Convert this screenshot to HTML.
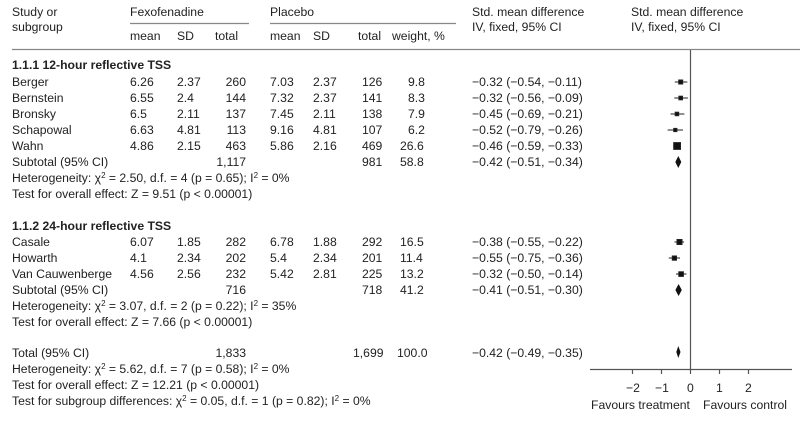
<!DOCTYPE html>
<html><head><meta charset="utf-8">
<style>
body{margin:0;background:#fff;}
#c{position:relative;width:800px;height:429px;overflow:hidden;font-family:"Liberation Sans",sans-serif;font-size:12.2px;color:#222;}
#c span{position:absolute;line-height:14px;white-space:nowrap;}
.r{text-align:right;}
b{font-weight:bold;}
sup{font-size:8px;line-height:0;vertical-align:4px;}
</style></head><body>
<div id="c">
<span style="left:12px;top:5px">Study or</span>
<span style="left:12px;top:20px">subgroup</span>
<span style="left:130px;top:5px">Fexofenadine</span>
<span style="left:270px;top:5px">Placebo</span>
<span style="left:472px;top:5px">Std. mean difference</span>
<span style="left:472px;top:20px">IV, fixed, 95% CI</span>
<span style="left:631px;top:5px">Std. mean difference</span>
<span style="left:631px;top:20px">IV, fixed, 95% CI</span>
<span style="left:130px;top:29px">mean</span>
<span style="left:177px;top:29px">SD</span>
<span style="left:215px;top:29px">total</span>
<span style="left:270px;top:29px">mean</span>
<span style="left:313px;top:29px">SD</span>
<span style="left:358px;top:29px">total</span>
<span style="left:392px;top:29px">weight, %</span>

<span style="left:12px;top:58px"><b>1.1.1 12-hour reflective TSS</b></span>

<span style="left:12px;top:75px">Berger</span><span style="left:130px;top:75px">6.26</span><span style="left:177px;top:75px">2.37</span><span class="r" style="right:554px;top:75px">260</span><span style="left:270px;top:75px">7.03</span><span style="left:313px;top:75px">2.37</span><span style="left:362px;top:75px">126</span><span style="left:408px;top:75px">9.8</span><span style="left:472px;top:75px">−0.32 (−0.54, −0.11)</span>
<span style="left:12px;top:91px">Bernstein</span><span style="left:130px;top:91px">6.55</span><span style="left:177px;top:91px">2.4</span><span class="r" style="right:554px;top:91px">144</span><span style="left:270px;top:91px">7.32</span><span style="left:313px;top:91px">2.37</span><span style="left:362px;top:91px">141</span><span style="left:408px;top:91px">8.3</span><span style="left:472px;top:91px">−0.32 (−0.56, −0.09)</span>
<span style="left:12px;top:107px">Bronsky</span><span style="left:130px;top:107px">6.5</span><span style="left:177px;top:107px">2.11</span><span class="r" style="right:554px;top:107px">137</span><span style="left:270px;top:107px">7.45</span><span style="left:313px;top:107px">2.11</span><span style="left:362px;top:107px">138</span><span style="left:408px;top:107px">7.9</span><span style="left:472px;top:107px">−0.45 (−0.69, −0.21)</span>
<span style="left:12px;top:123px">Schapowal</span><span style="left:130px;top:123px">6.63</span><span style="left:177px;top:123px">4.81</span><span class="r" style="right:554px;top:123px">113</span><span style="left:270px;top:123px">9.16</span><span style="left:313px;top:123px">4.81</span><span style="left:362px;top:123px">107</span><span style="left:408px;top:123px">6.2</span><span style="left:472px;top:123px">−0.52 (−0.79, −0.26)</span>
<span style="left:12px;top:139px">Wahn</span><span style="left:130px;top:139px">4.86</span><span style="left:177px;top:139px">2.15</span><span class="r" style="right:554px;top:139px">463</span><span style="left:270px;top:139px">5.86</span><span style="left:313px;top:139px">2.16</span><span style="left:362px;top:139px">469</span><span style="left:400px;top:139px">26.6</span><span style="left:472px;top:139px">−0.46 (−0.59, −0.33)</span>
<span style="left:12px;top:155px">Subtotal (95% CI)</span><span class="r" style="right:554px;top:155px">1,117</span><span style="left:362px;top:155px">981</span><span style="left:400px;top:155px">58.8</span><span style="left:472px;top:155px">−0.42 (−0.51, −0.34)</span>
<span style="left:12px;top:171px">Heterogeneity: χ<sup>2</sup> = 2.50, d.f. = 4 (p = 0.65); I<sup>2</sup> = 0%</span>
<span style="left:12px;top:187px">Test for overall effect: Z = 9.51 (p &lt; 0.00001)</span>

<span style="left:12px;top:219px"><b>1.1.2 24-hour reflective TSS</b></span>
<span style="left:12px;top:235px">Casale</span><span style="left:130px;top:235px">6.07</span><span style="left:177px;top:235px">1.85</span><span class="r" style="right:554px;top:235px">282</span><span style="left:270px;top:235px">6.78</span><span style="left:313px;top:235px">1.88</span><span style="left:362px;top:235px">292</span><span style="left:400px;top:235px">16.5</span><span style="left:472px;top:235px">−0.38 (−0.55, −0.22)</span>
<span style="left:12px;top:251px">Howarth</span><span style="left:130px;top:251px">4.1</span><span style="left:177px;top:251px">2.34</span><span class="r" style="right:554px;top:251px">202</span><span style="left:270px;top:251px">5.4</span><span style="left:313px;top:251px">2.34</span><span style="left:362px;top:251px">201</span><span style="left:400px;top:251px">11.4</span><span style="left:472px;top:251px">−0.55 (−0.75, −0.36)</span>
<span style="left:12px;top:267px">Van Cauwenberge</span><span style="left:130px;top:267px">4.56</span><span style="left:177px;top:267px">2.56</span><span class="r" style="right:554px;top:267px">232</span><span style="left:270px;top:267px">5.42</span><span style="left:313px;top:267px">2.81</span><span style="left:362px;top:267px">225</span><span style="left:400px;top:267px">13.2</span><span style="left:472px;top:267px">−0.32 (−0.50, −0.14)</span>
<span style="left:12px;top:283px">Subtotal (95% CI)</span><span class="r" style="right:554px;top:283px">716</span><span style="left:362px;top:283px">718</span><span style="left:400px;top:283px">41.2</span><span style="left:472px;top:283px">−0.41 (−0.51, −0.30)</span>
<span style="left:12px;top:299px">Heterogeneity: χ<sup>2</sup> = 3.07, d.f. = 2 (p = 0.22); I<sup>2</sup> = 35%</span>
<span style="left:12px;top:315px">Test for overall effect: Z = 7.66 (p &lt; 0.00001)</span>

<span style="left:12px;top:346px">Total (95% CI)</span><span class="r" style="right:554px;top:346px">1,833</span><span style="left:353px;top:346px">1,699</span><span style="left:397px;top:346px">100.0</span><span style="left:472px;top:346px">−0.42 (−0.49, −0.35)</span>
<span style="left:12px;top:362px">Heterogeneity: χ<sup>2</sup> = 5.62, d.f. = 7 (p = 0.58); I<sup>2</sup> = 0%</span>
<span style="left:12px;top:378px">Test for overall effect: Z = 12.21 (p &lt; 0.00001)</span>
<span style="left:12px;top:394px">Test for subgroup differences: χ<sup>2</sup> = 0.05, d.f. = 1 (p = 0.82); I<sup>2</sup> = 0%</span>

<span style="left:626px;top:381px">−2</span>
<span style="left:655px;top:381px">−1</span>
<span style="left:687px;top:381px">0</span>
<span style="left:716px;top:381px">1</span>
<span style="left:745px;top:381px">2</span>
<span style="left:591px;top:398px">Favours treatment</span>
<span style="left:703px;top:398px">Favours control</span>

<svg width="800" height="429" style="position:absolute;left:0;top:0" xmlns="http://www.w3.org/2000/svg">
<g stroke="#888" stroke-width="1.2" fill="none">
<line x1="130" y1="23.5" x2="249" y2="23.5"/>
<line x1="270" y1="23.5" x2="456" y2="23.5"/>
<line x1="12" y1="49.5" x2="800" y2="49.5"/>
</g>
<g stroke="#555" stroke-width="1.2" fill="none">
<line x1="690.5" y1="50" x2="690.5" y2="369"/>
<line x1="590" y1="369.5" x2="792" y2="369.5"/>
<line x1="632.5" y1="369" x2="632.5" y2="374"/>
<line x1="661.5" y1="369" x2="661.5" y2="374"/>
<line x1="690.5" y1="369" x2="690.5" y2="374"/>
<line x1="719.5" y1="369" x2="719.5" y2="374"/>
<line x1="748.5" y1="369" x2="748.5" y2="374"/>
</g>
<g stroke="#222" stroke-width="1" fill="#111">
<line x1="674.8" y1="82" x2="687.3" y2="82"/><rect x="678.7" y="80" width="4" height="4"/>
<line x1="674.3" y1="98" x2="687.9" y2="98"/><rect x="678.9" y="96.2" width="3.6" height="3.6"/>
<line x1="670.5" y1="114" x2="684.4" y2="114"/><rect x="675.2" y="112.2" width="3.5" height="3.5"/>
<line x1="667.6" y1="130" x2="683" y2="130"/><rect x="673.7" y="128.4" width="3.2" height="3.2"/>
<line x1="673.4" y1="146" x2="680.9" y2="146"/><rect x="673.7" y="142.6" width="6.8" height="6.8"/>
<polygon points="678.3,156 681.3,162 678.3,168 675.3,162" stroke="none"/>
<line x1="674.5" y1="242" x2="684.1" y2="242"/><rect x="677" y="239.5" width="5" height="5"/>
<line x1="668.8" y1="258" x2="680" y2="258"/><rect x="672.3" y="256" width="4.2" height="4.2"/>
<line x1="676" y1="274" x2="686.5" y2="274"/><rect x="678.8" y="271.8" width="4.6" height="4.6"/>
<polygon points="678.6,284 681.8,290 678.6,296 675.4,290" stroke="none"/>
<polygon points="678.3,346 680.5,352 678.3,358 676.3,352" stroke="none"/>
</g>
</svg>
</div>
</body></html>
